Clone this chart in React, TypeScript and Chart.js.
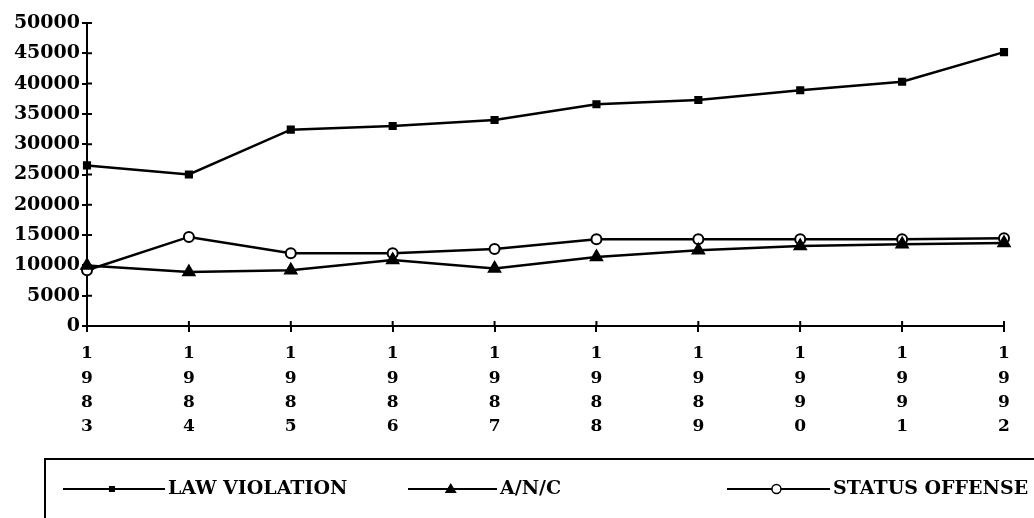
import React, { useEffect, useRef } from "react";
import { Chart, registerables } from "chart.js";

Chart.register(...registerables);

const years = ["1983", "1984", "1985", "1986", "1987", "1988", "1989", "1990", "1991", "1992"];
const lawViolation = [26500, 25000, 32400, 33000, 34000, 36600, 37300, 38900, 40300, 45200];
const anc = [10000, 8900, 9200, 10900, 9500, 11400, 12500, 13200, 13500, 13700];
const statusOffense = [9200, 14700, 12000, 12000, 12700, 14300, 14300, 14300, 14300, 14500];
const yTicks = [0, 5000, 10000, 15000, 20000, 25000, 30000, 35000, 40000, 45000, 50000];
const seriesNames = ["LAW VIOLATION", "A/N/C", "STATUS OFFENSE"];

const FONT = "'DejaVu Serif', 'Liberation Serif', serif";

const decorPlugin = {
  id: "decor",
  afterDraw(chart: any) {
    const ctx = chart.ctx;
    const x = chart.scales.x;
    const y = chart.scales.y;
    const area = chart.chartArea;
    ctx.save();
    ctx.strokeStyle = "#000";
    ctx.lineWidth = 2;
    // inner half of crossing tick marks
    ctx.beginPath();
    yTicks.forEach((v) => {
      const py = y.getPixelForValue(v);
      ctx.moveTo(area.left, py);
      ctx.lineTo(area.left + 5, py);
    });
    years.forEach((_, i) => {
      const px = x.getPixelForValue(i);
      ctx.moveTo(px, area.bottom);
      ctx.lineTo(px, area.bottom - 5);
    });
    ctx.stroke();

    // legend box
    const boxTop = 459;
    const boxLeft = 45;
    ctx.beginPath();
    ctx.moveTo(boxLeft, chart.height);
    ctx.lineTo(boxLeft, boxTop);
    ctx.lineTo(chart.width, boxTop);
    ctx.stroke();

    const items = [
      { lineStart: 63, lineEnd: 165, textX: 168 },
      { lineStart: 408, lineEnd: 497, textX: 500 },
      { lineStart: 727, lineEnd: 830, textX: 833 },
    ];
    const ly = 489;
    ctx.font = `bold 19px ${FONT}`;
    ctx.textBaseline = "middle";
    ctx.textAlign = "left";
    chart.data.datasets.forEach((ds: any, i: number) => {
      const it = items[i];
      ctx.lineWidth = 2;
      ctx.strokeStyle = "#000";
      ctx.beginPath();
      ctx.moveTo(it.lineStart, ly);
      ctx.lineTo(it.lineEnd, ly);
      ctx.stroke();
      const mx = it.lineStart + (it.lineEnd - it.lineStart) * 0.48;
      ctx.lineWidth = 1.5;
      if (ds.pointStyle === "rect") {
        ctx.fillStyle = "#000";
        ctx.fillRect(mx - 3, ly - 3, 6, 6);
      } else if (ds.pointStyle === "triangle") {
        ctx.fillStyle = "#000";
        ctx.beginPath();
        ctx.moveTo(mx, ly - 6);
        ctx.lineTo(mx + 6, ly + 4);
        ctx.lineTo(mx - 6, ly + 4);
        ctx.closePath();
        ctx.fill();
      } else {
        ctx.fillStyle = "#fff";
        ctx.beginPath();
        ctx.arc(mx, ly, 4.5, 0, Math.PI * 2);
        ctx.fill();
        ctx.stroke();
      }
      ctx.fillStyle = "#000";
      ctx.fillText(seriesNames[i], it.textX, ly);
    });
    ctx.restore();
  },
};

export default function App() {
  const ref = useRef<HTMLCanvasElement | null>(null);
  useEffect(() => {
    if (!ref.current) return;
    const chart = new Chart(ref.current, {
      type: "line",
      data: {
        labels: years.map((y) => y.split("")),
        datasets: [
          {
            label: seriesNames[0],
            data: lawViolation,
            borderColor: "#000",
            borderWidth: 2.5,
            pointStyle: "rect",
            pointRadius: 4,
            pointBackgroundColor: "#000",
            pointBorderColor: "#000",
            tension: 0,
          },
          {
            label: seriesNames[1],
            data: anc,
            borderColor: "#000",
            borderWidth: 2.5,
            pointStyle: "triangle",
            pointRadius: 6,
            pointBackgroundColor: "#000",
            pointBorderColor: "#000",
            tension: 0,
          },
          {
            label: seriesNames[2],
            data: statusOffense,
            borderColor: "#000",
            borderWidth: 2.5,
            pointStyle: "circle",
            pointRadius: 5,
            pointBorderWidth: 2,
            pointBackgroundColor: "#fff",
            pointBorderColor: "#000",
            tension: 0,
          },
        ],
      },
      options: {
        animation: false,
        responsive: false,
        events: [],
        layout: { padding: { top: 23, right: 30, bottom: 59, left: 0 } },
        plugins: { legend: { display: false }, tooltip: { enabled: false } },
        scales: {
          x: {
            offset: false,
            grid: { drawOnChartArea: false, drawTicks: true, tickLength: 6, color: "#000", lineWidth: 2 },
            border: { display: true, color: "#000", width: 2 },
            ticks: {
              autoSkip: false,
              maxRotation: 0,
              padding: 10,
              color: "#000",
              font: { family: FONT, size: 17, weight: "bold", lineHeight: 1.42 },
            },
            afterFit: (s: any) => {
              s.height = 133;
            },
          },
          y: {
            min: 0,
            max: 50000,
            grid: { drawOnChartArea: false, drawTicks: true, tickLength: 5, color: "#000", lineWidth: 2 },
            border: { display: true, color: "#000", width: 2 },
            ticks: {
              stepSize: 5000,
              padding: 2,
              color: "#000",
              font: { family: FONT, size: 19, weight: "bold" },
              callback: (v: any) => String(v),
            },
            afterFit: (s: any) => {
              s.width = 87;
            },
          },
        },
      },
      plugins: [decorPlugin],
    });
    return () => chart.destroy();
  }, []);
  return (
    <div style={{ position: "absolute", left: 0, top: 0, width: 1034, height: 518, background: "#fff" }}>
      <canvas ref={ref} width={1034} height={518} />
    </div>
  );
}
